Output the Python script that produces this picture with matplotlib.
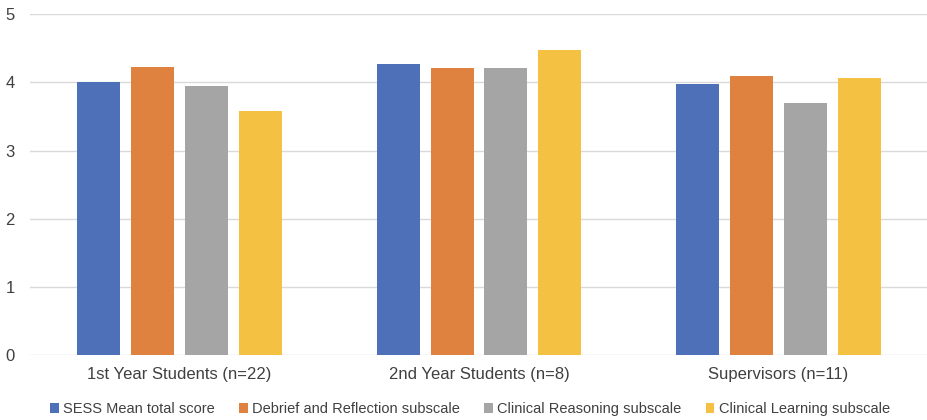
import numpy as np
import matplotlib.pyplot as plt

plt.rcParams['font.family'] = ['Liberation Sans', 'DejaVu Sans']

groups = ['1st Year Students (n=22)', '2nd Year Students (n=8)', 'Supervisors (n=11)']
series = ['SESS Mean total score', 'Debrief and Reflection subscale',
          'Clinical Reasoning subscale', 'Clinical Learning subscale']
sess_total = [4.00, 4.27, 3.97]
debrief = [4.22, 4.21, 4.09]
reasoning = [3.95, 4.21, 3.70]
learning = [3.58, 4.47, 4.06]
colors = ['#4E70B8', '#E0823F', '#A5A5A5', '#F5C142']

fig = plt.figure(figsize=(9.27, 4.2), dpi=100)
ax = fig.add_axes([30/927, 65/420, 898/927, 340.7/420])

x = np.arange(len(groups))
width = 0.1436
step = 0.1803
for i, (vals, name) in enumerate(zip([sess_total, debrief, reasoning, learning], series)):
    ax.bar(x + (i - 1.5)*step, vals, width, color=colors[i], label=name, zorder=3)

ax.set_xlim(-0.5, 2.5)
ax.set_ylim(0, 5)
ax.set_yticks(range(6))
ax.yaxis.grid(True, color='#D9D9D9', linewidth=1, zorder=0)
for s in ax.spines.values():
    s.set_visible(False)
ax.tick_params(axis='both', length=0, labelsize=12, colors='#404040')
ax.tick_params(axis='y', pad=11)
ax.tick_params(axis='x', pad=9)
ax.set_xticks(x)
ax.set_xticklabels(groups)

ax.legend(loc='upper center', bbox_to_anchor=(0.49, -0.1), ncol=4, frameon=False,
          fontsize=10.5, handlelength=0.6, handleheight=0.6, handletextpad=0.3,
          columnspacing=1.65, labelcolor='#404040')

fig.savefig('out.png', dpi=100)
